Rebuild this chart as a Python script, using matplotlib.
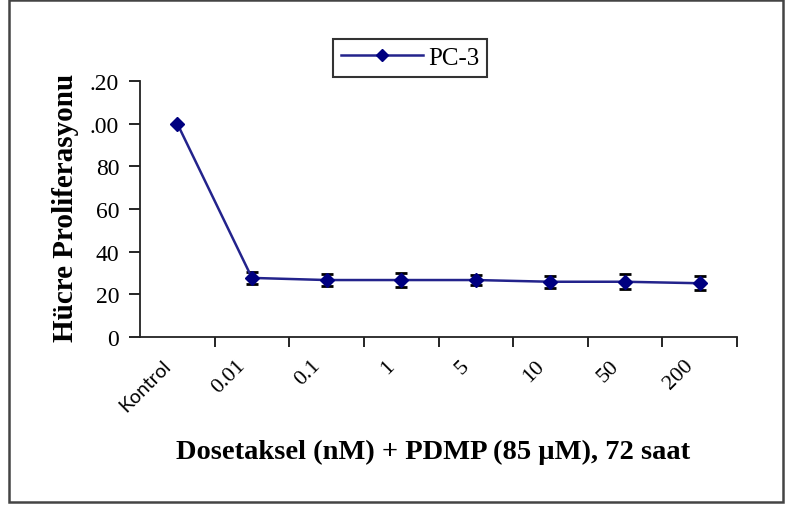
import numpy as np
import matplotlib
matplotlib.use("Agg")
import matplotlib.pyplot as plt
from matplotlib.patches import Rectangle

# Data
categories = ["Kontrol", "0.01", "0.1", "1", "5", "10", "50", "200"]
proliferation = [100, 27.7, 26.7, 26.7, 26.7, 25.9, 25.9, 25.2]
errors = [0, 3.0, 2.7, 3.4, 2.4, 2.7, 3.4, 3.3]
y_ticks = [0, 20, 40, 60, 80, 100, 120]
y_tick_labels = ["0", "20", "40", "60", "80", ".00", ".20"]

SERIF = "Liberation Serif"
SANS = "Lato"
LINE_COLOR = "#23238c"
MARKER_COLOR = "#000080"

fig = plt.figure(figsize=(7.9, 5.06), dpi=100)
ax = fig.add_axes([140 / 790, 1 - 338 / 506, (737 - 140) / 790, (338 - 82) / 506])

x = np.arange(len(categories)) + 0.5

ax.errorbar(x[1:], proliferation[1:], yerr=errors[1:], fmt="none",
            ecolor="black", elinewidth=1.2, capsize=4.5, capthick=2, zorder=2)
line, = ax.plot(x, proliferation, color=LINE_COLOR, lw=1.8, marker="D",
                markersize=7.5, markerfacecolor=MARKER_COLOR,
                markeredgecolor=MARKER_COLOR, zorder=3, label="PC-3")

ax.set_xlim(0, len(categories))
ax.set_ylim(0, 120)

# y axis
ax.set_yticks(y_ticks)
ax.set_yticklabels(y_tick_labels, fontfamily=SERIF, fontsize=17)
ax.tick_params(axis="y", direction="out", length=8, width=1.2, pad=7)

# x axis: ticks at category boundaries, labels drawn by hand
ax.set_xticks(np.arange(1, len(categories) + 1))
ax.set_xticklabels([])
ax.tick_params(axis="x", direction="out", length=7, width=1.2)

for xi, lab in zip(x, categories):
    fam = SANS if lab == "Kontrol" else SERIF
    size = 14 if lab == "Kontrol" else 16
    ax.text(xi - 0.12, -0.1, lab, transform=ax.get_xaxis_transform(),
            rotation=45, rotation_mode="anchor", ha="right", va="center",
            fontfamily=fam, fontsize=size)

for side in ["top", "right"]:
    ax.spines[side].set_visible(False)
for side in ["left", "bottom"]:
    ax.spines[side].set_linewidth(1.3)
    ax.spines[side].set_color("#222222")

# axis titles
fig.text(66 / 790, 1 - 208 / 506, "Hücre Proliferasyonu", rotation=90,
         ha="center", va="center", fontfamily=SERIF, fontweight="bold",
         fontsize=21)
fig.text(433 / 790, 1 - 452 / 506, "Dosetaksel (nM) + PDMP (85 µM), 72 saat",
         ha="center", va="center", fontfamily=SERIF, fontweight="bold",
         fontsize=20.5)

# legend
leg = fig.legend(handles=[line], loc="upper left",
                 bbox_to_anchor=(333 / 790, 1 - 40 / 506), borderaxespad=0,
                 frameon=True, fancybox=False, edgecolor="black",
                 prop={"family": SERIF, "size": 18}, handlelength=3.3,
                 handletextpad=0.2, borderpad=0.3, markerscale=0.8)
leg.get_frame().set_linewidth(1.5)

# outer border around the figure
fig.patches.append(Rectangle((9 / 790, 1 - 503 / 506), (783 - 9) / 790, (503 - 1) / 506,
                             transform=fig.transFigure, fill=False,
                             edgecolor="#444444", linewidth=1.8))

fig.savefig("out.png", dpi=100)
